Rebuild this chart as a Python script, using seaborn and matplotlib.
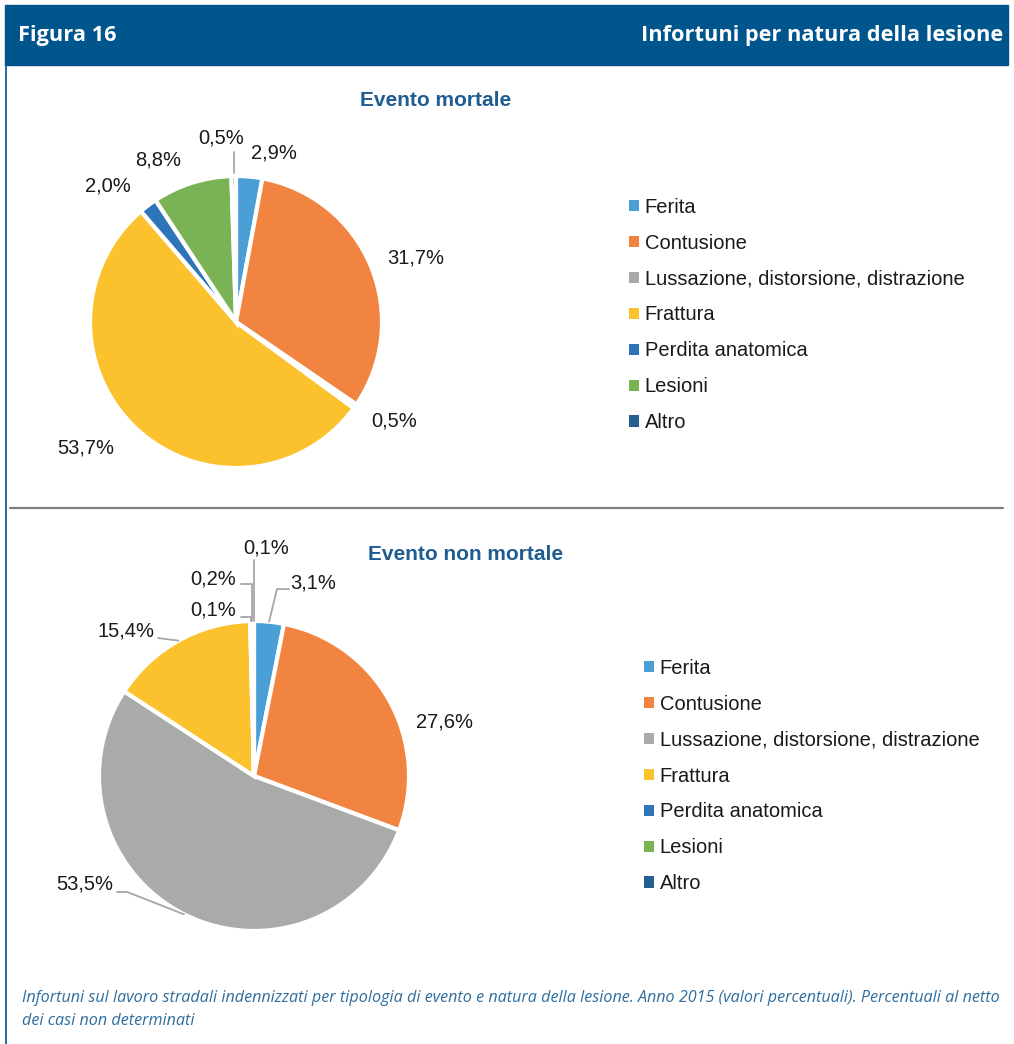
import matplotlib
matplotlib.use("Agg")
import matplotlib.pyplot as plt
from matplotlib.patches import Rectangle, Patch
from matplotlib.lines import Line2D
import numpy as np
import seaborn as sns

# ---------------- data ----------------
categories = ["Ferita", "Contusione", "Lussazione, distorsione, distrazione",
              "Frattura", "Perdita anatomica", "Lesioni", "Altro"]
mortale = [2.9, 31.7, 0.5, 53.7, 2.0, 8.8, 0.5]
non_mortale = [3.1, 27.6, 53.5, 15.4, 0.1, 0.2, 0.1]
palette_hex = ["#4A9FD6", "#F08440", "#A9ABA9", "#FBC22E", "#2E74B8", "#7AB356", "#255E91"]

header_left = "Figura 16"
header_right = "Infortuni per natura della lesione"
title_top = "Evento mortale"
title_bottom = "Evento non mortale"
caption_1 = ("Infortuni sul lavoro stradali indennizzati per tipologia di evento e natura della lesione. "
             "Anno 2015 (valori percentuali). Percentuali al netto")
caption_2 = "dei casi non determinati"

# ---------------- style ----------------
sns.set_theme(style="white")
plt.rcParams["font.family"] = ["Liberation Sans", "DejaVu Sans"]
colors = sns.color_palette(palette_hex)

W, H = 1014, 1044
fig = plt.figure(figsize=(W / 100, H / 100), dpi=100)
fig.patch.set_facecolor("white")


def fx(px):
    return px / W


def fy(py):
    return 1 - py / H


BLUE = "#00558C"
TITLE_BLUE = "#1F5C91"
LEAD = "#A6A6A6"

# header band
fig.patches.append(Rectangle((fx(5), fy(65)), fx(1008) - fx(5), fy(5) - fy(65),
                             transform=fig.transFigure, color=BLUE, zorder=0))
fig.lines.append(Line2D([fx(5.5), fx(5.5)], [fy(65), fy(1044)], transform=fig.transFigure,
                        color=BLUE, lw=1.2))
fig.lines.append(Line2D([fx(10), fx(1003)], [fy(508), fy(508)], transform=fig.transFigure,
                        color="#7F7F7F", lw=1.6))

fig.text(fx(18), fy(36), header_left, color="white", fontsize=15.7, fontweight="bold",
         family="Open Sans", ha="left", va="center")
fig.text(fx(1003), fy(36), header_right, color="white", fontsize=15.7, fontweight="bold",
         family="Open Sans", ha="right", va="center")

fig.text(fx(436), fy(100), title_top, color=TITLE_BLUE, fontsize=15, fontweight="bold",
         ha="center", va="center")
fig.text(fx(466), fy(555), title_bottom, color=TITLE_BLUE, fontsize=15, fontweight="bold",
         ha="center", va="center")

fig.text(fx(22), fy(998), caption_1, color="#2E6D9E", fontsize=11.6, style="italic",
         family="Open Sans", ha="left", va="center")
fig.text(fx(22), fy(1021), caption_2, color="#2E6D9E", fontsize=11.6, style="italic",
         family="Open Sans", ha="left", va="center")


def fmt(v):
    return f"{v:.1f}".replace(".", ",") + "%"


def make_pie(cx, cy, r, values):
    S = 1.7
    ax = fig.add_axes([fx(cx - r * S), fy(cy + r * S), 2 * r * S / W, 2 * r * S / H])
    wedges, _ = ax.pie(values, colors=colors, startangle=90, counterclock=False,
                       radius=1.0, wedgeprops=dict(edgecolor="white", linewidth=3.0))
    ax.set_xlim(-S, S)
    ax.set_ylim(-S, S)
    ax.axis("off")
    mids = [np.deg2rad((w.theta1 + w.theta2) / 2) for w in wedges]
    return ax, wedges, mids


FS = 14.5
TXT = "#1A1A1A"

# ---------------- top pie ----------------
ax1, w1, m1 = make_pie(236, 322, 146, mortale)
top_pos = [(0.26, 1.16), (1.23, 0.44), (1.08, -0.68), (-1.03, -0.86),
           (-0.88, 0.93), (-0.53, 1.11), (-0.10, 1.26)]
for v, (x, y) in zip(mortale, top_pos):
    ax1.text(x, y, fmt(v), fontsize=FS, ha="center", va="center", color=TXT)
a = m1[6]
ax1.plot([1.02 * np.cos(a), 1.02 * np.cos(a)], [1.02 * np.sin(a), 1.165], color=LEAD, lw=1.3)

# ---------------- bottom pie ----------------
ax2, w2, m2 = make_pie(254, 776, 155, non_mortale)
P = lambda i: (np.cos(m2[i]), np.sin(m2[i]))
# Ferita
x0, y0 = P(0)
ax2.plot([x0, 0.148, 0.226], [y0, 1.206, 1.206], color=LEAD, lw=1.3)
ax2.text(0.235, 1.245, fmt(non_mortale[0]), fontsize=FS, ha="left", va="center", color=TXT)
# Contusione
ax2.text(1.226, 0.348, fmt(non_mortale[1]), fontsize=FS, ha="center", va="center", color=TXT)
# Lussazione
x0, y0 = P(2)
ax2.plot([x0, -0.819, -0.884], [y0, -0.748, -0.748], color=LEAD, lw=1.3)
ax2.text(-0.905, -0.70, fmt(non_mortale[2]), fontsize=FS, ha="right", va="center", color=TXT)
# Frattura
x0, y0 = P(3)
ax2.plot([x0, -0.619], [y0, 0.89], color=LEAD, lw=1.3)
ax2.text(-0.64, 0.935, fmt(non_mortale[3]), fontsize=FS, ha="right", va="center", color=TXT)
# Perdita anatomica
x0, y0 = P(4)
ax2.plot([x0, x0, -0.084], [y0, 1.026, 1.026], color=LEAD, lw=1.3)
ax2.text(-0.115, 1.071, fmt(non_mortale[4]), fontsize=FS, ha="right", va="center", color=TXT)
# Lesioni
x0, y0 = P(5)
ax2.plot([x0, x0, -0.084], [y0, 1.239, 1.239], color=LEAD, lw=1.3)
ax2.text(-0.115, 1.271, fmt(non_mortale[5]), fontsize=FS, ha="right", va="center", color=TXT)
# Altro
x0, y0 = P(6)
ax2.plot([x0, x0], [y0, 1.394], color=LEAD, lw=1.3)
ax2.text(0.077, 1.471, fmt(non_mortale[6]), fontsize=FS, ha="center", va="center", color=TXT)

# ---------------- legends ----------------
handles = [Patch(facecolor=c, edgecolor="none") for c in colors]
for lx, ly in [(629, 315), (644, 776)]:
    fig.legend(handles, categories, loc="center left",
               bbox_to_anchor=(fx(lx), fy(ly)), bbox_transform=fig.transFigure,
               frameon=False, fontsize=FS, handlelength=0.48, handleheight=0.48,
               handletextpad=0.3, labelspacing=0.84, borderpad=0, borderaxespad=0,
               labelcolor=TXT)

fig.savefig("out.png", dpi=100)
